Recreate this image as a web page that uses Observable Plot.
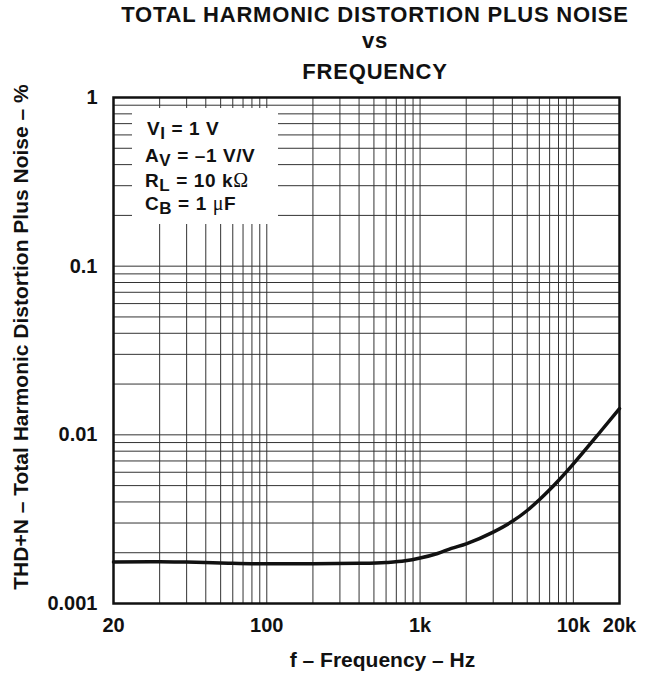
<!DOCTYPE html>
<html><head><meta charset="utf-8">
<script src="https://cdn.jsdelivr.net/npm/d3@7"></script>
<script src="https://cdn.jsdelivr.net/npm/@observablehq/plot@0.6"></script>
<style>
body{margin:0;background:#fff;font-family:"Liberation Sans",Arial,Helvetica,sans-serif;}
#wrap{position:relative;width:651px;height:673px;overflow:hidden;}
#title{position:relative;height:88px;width:651px;}
#title div{position:absolute;left:100px;width:550px;text-align:center;font-weight:bold;font-size:22px;letter-spacing:0.8px;line-height:26px;color:#111;}
#legend{position:absolute;left:132px;top:108px;width:146px;height:116px;background:#fff;}
#legend .row{position:absolute;left:13px;font-weight:bold;font-size:19px;letter-spacing:0.6px;line-height:22px;color:#111;white-space:nowrap;}
#legend .sub{position:relative;top:4px;font-size:17px;}
#legend .sym{font-family:"Liberation Serif","DejaVu Serif",serif;font-weight:normal;font-size:20px;}
</style></head>
<body>
<div id="wrap">
  <div id="title">
    <div style="top:2px">TOTAL HARMONIC DISTORTION PLUS NOISE</div>
    <div style="top:28px">vs</div>
    <div style="top:59px">FREQUENCY</div>
  </div>
  <div id="chart"></div>
  <div id="legend">
    <div class="row" style="top:10px;left:15px">V<span class="sub">I</span> = 1 V</div>
    <div class="row" style="top:37px">A<span class="sub">V</span> = –1 V/V</div>
    <div class="row" style="top:61px">R<span class="sub">L</span> = 10 k<span class="sym">Ω</span></div>
    <div class="row" style="top:84px">C<span class="sub">B</span> = 1 <span class="sym">μ</span>F</div>
  </div>
</div>
<script>
// Curve data: frequency (Hz) vs THD+N (%)
const freqHz = [10, 20, 30, 50, 100, 200, 400, 600, 800, 1000, 1300, 1600, 2000, 3000, 4000, 5000, 6000, 7000, 8000, 9000, 10000, 15000, 20000];
const thdPct = [0.00176, 0.00177, 0.00176, 0.00174, 0.00172, 0.00172, 0.00173, 0.00175, 0.00179, 0.00186, 0.00198, 0.00212, 0.00226, 0.00265, 0.00307, 0.00356, 0.00412, 0.00472, 0.00536, 0.00603, 0.00673, 0.01043, 0.01431];

// Tick values and labels
const xTickValues = [10, 100, 1000, 10000, 20000];
const xTickLabels = ["20", "100", "1k", "10k", "20k"];
const yTickValues = [0.001, 0.01, 0.1, 1];
const yTickLabels = ["0.001", "0.01", "0.1", "1"];
const xLabel = "f – Frequency – Hz";
const yLabel = "THD+N – Total Harmonic Distortion Plus Noise – %";

const xDomain = [10, 20000];
const yDomain = [0.001, 1];

const data = freqHz.map((f, i) => ({f, v: thdPct[i]}));
const xGrid = d3.scaleLog().domain(xDomain).ticks();
const yGrid = d3.scaleLog().domain(yDomain).ticks();
const xLab = new Map(xTickValues.map((d, i) => [d, xTickLabels[i]]));
const yLab = new Map(yTickValues.map((d, i) => [d, yTickLabels[i]]));

const chart = Plot.plot({
  width: 651,
  height: 585,
  marginTop: 9,
  marginBottom: 70,
  marginLeft: 113,
  marginRight: 32,
  style: {fontFamily: '"Liberation Sans", Arial, Helvetica, sans-serif', fontWeight: "bold", fontSize: "20px", color: "#111", background: "#fff", overflow: "visible"},
  x: {type: "log", domain: xDomain},
  y: {type: "log", domain: yDomain},
  marks: [
    Plot.ruleX(xGrid, {stroke: "#333", strokeWidth: 1}),
    Plot.ruleY(yGrid, {stroke: "#333", strokeWidth: 1}),
    Plot.line(data, {x: "f", y: "v", stroke: "#111", strokeWidth: 3.5, curve: "monotone-x"}),
    Plot.frame({stroke: "#111", strokeWidth: 2.5}),
    Plot.axisX(xTickValues, {tickSize: 0, tickPadding: 14, fontSize: 20, fontWeight: "bold",
      tickFormat: d => xLab.get(d), label: null}),
    Plot.axisY(yTickValues, {tickSize: 0, tickPadding: 16, fontSize: 20, fontWeight: "bold",
      tickFormat: d => yLab.get(d), label: null}),
    Plot.text([xLabel], {text: d => d, frameAnchor: "bottom", textAnchor: "middle", dx: 16, dy: 57, lineAnchor: "middle",
      fontSize: 21, fontWeight: "bold"}),
    Plot.text([yLabel], {text: d => d, frameAnchor: "left", textAnchor: "middle", rotate: -90, dx: -92, dy: -13.5, lineAnchor: "middle",
      fontSize: 21, fontWeight: "bold"})
  ]
});
document.getElementById("chart").appendChild(chart);
</script>
</body></html>
